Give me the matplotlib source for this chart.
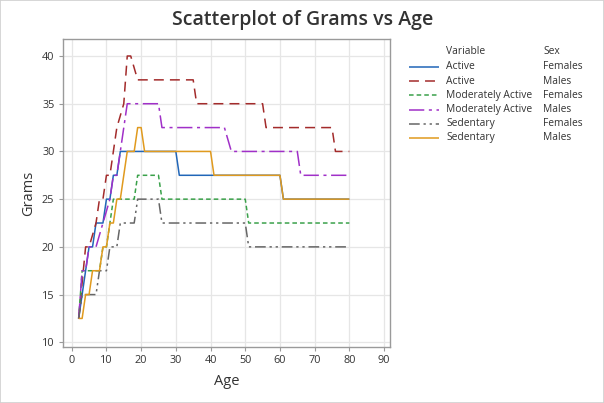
import matplotlib
matplotlib.use("Agg")
import matplotlib.pyplot as plt
from matplotlib.lines import Line2D
from matplotlib.patches import Rectangle

plt.rcParams['font.family'] = ['Open Sans', 'DejaVu Sans']

# ---- data ----
active_f_age = [2, 3, 4, 5, 6, 7, 9, 10, 11, 12, 13, 14, 30, 31, 60, 61, 80]
active_f_g = [12.5, 15, 17.5, 20, 20, 22.5, 22.5, 25, 25, 27.5, 27.5, 30, 30, 27.5, 27.5, 25, 25]

active_m_age = [2, 4, 5, 7, 8, 9, 10, 11, 12, 13, 14, 15, 16, 17, 19, 35, 36, 55, 56, 75, 76, 80]
active_m_g = [12.5, 20, 20, 22.5, 25, 25, 27.5, 27.5, 30, 32.5, 33.75, 35, 40, 40, 37.5, 37.5, 35, 35, 32.5, 32.5, 30, 30]

mod_f_age = [2, 3, 8, 9, 10, 11, 12, 18, 19, 25, 26, 50, 51, 80]
mod_f_g = [12.5, 17.5, 17.5, 20, 20, 22.5, 25, 25, 27.5, 27.5, 25, 25, 22.5, 22.5]

mod_m_age = [2, 3, 4, 5, 7, 9, 11, 12, 13, 14, 15, 16, 25, 26, 44, 46, 65, 66, 80]
mod_m_g = [12.5, 17.5, 17.5, 20, 20, 22.5, 25, 27.5, 27.5, 30, 32.5, 35, 35, 32.5, 32.5, 30, 30, 27.5, 27.5]

sed_f_age = [2, 3, 7, 8, 10, 11, 13, 14, 18, 19, 25, 26, 50, 51, 80]
sed_f_g = [12.5, 15, 15, 17.5, 17.5, 20, 20, 22.5, 22.5, 25, 25, 22.5, 22.5, 20, 20]

sed_m_age = [2, 3, 4, 5, 6, 8, 9, 10, 11, 12, 13, 14, 16, 18, 19, 20, 21, 40, 41, 60, 61, 80]
sed_m_g = [12.5, 12.5, 15, 15, 17.5, 17.5, 20, 20, 22.5, 22.5, 25, 25, 30, 30, 32.5, 32.5, 30, 30, 27.5, 27.5, 25, 25]

variables = ["Active", "Active", "Moderately Active", "Moderately Active", "Sedentary", "Sedentary"]
sexes = ["Females", "Males", "Females", "Males", "Females", "Males"]
x_ticks = [0, 10, 20, 30, 40, 50, 60, 70, 80, 90]
y_ticks = [10, 15, 20, 25, 30, 35, 40]

series = [
    (active_f_age, active_f_g, '#2166b8', (0, ())),
    (active_m_age, active_m_g, '#a32b2b', (0, (6.5, 4.0))),
    (mod_f_age, mod_f_g, '#3aa14a', (0, (3.0, 2.0))),
    (mod_m_age, mod_m_g, '#a030c8', (0, (10.0, 3.0, 2.0, 3.0))),
    (sed_f_age, sed_f_g, '#666666', (0, (7.0, 2.5, 1.5, 2.5, 1.5, 2.5))),
    (sed_m_age, sed_m_g, '#e09a1e', (0, ())),
]

W, H = 604, 403
fig = plt.figure(figsize=(W / 100, H / 100), dpi=100)


def fx(px):
    return px / W


def fy(py):
    return 1 - py / H


ax = fig.add_axes([fx(62.7), fy(346.7), fx(390.3) - fx(62.7), fy(39.3) - fy(346.7)])

for a, g, c, ls in series:
    ax.plot(a, g, color=c, linestyle=ls, linewidth=1.1)

ax.set_xlim(-2.6, 91.8)
ax.set_ylim(9.54, 41.75)
ax.set_xticks(x_ticks)
ax.set_yticks(y_ticks)
ax.grid(True, color='#e6e6e6', linewidth=0.9)
ax.set_axisbelow(True)
for s in ax.spines.values():
    s.set_color('#9a9a9a')
    s.set_linewidth(1.0)
ax.tick_params(direction='out', length=3, width=0.8, color='#9a9a9a',
               labelsize=7.8, labelcolor='#333333', pad=3)
ax.set_xlabel("Age", fontsize=10.5, color='#333333', labelpad=6)
ax.set_ylabel("Grams", fontsize=10.5, color='#333333', labelpad=4)

fig.text(fx(303), fy(20), "Scatterplot of Grams vs Age", fontsize=14,
         fontweight='semibold', color='#333333', ha='center', va='center')

# legend
FS = 7.4
fig.text(fx(446.5), fy(51.7), "Variable", fontsize=FS, color='#333333', va='center')
fig.text(fx(543), fy(51.7), "Sex", fontsize=FS, color='#333333', va='center')
row_y = [66.7, 81.0, 95.3, 109.5, 123.7, 137.8]
for (a, g, c, ls), v, s, ry in zip(series, variables, sexes, row_y):
    fig.add_artist(Line2D([fx(409), fx(438.5)], [fy(ry), fy(ry)], color=c,
                          linestyle=ls, linewidth=1.1, transform=fig.transFigure))
    fig.text(fx(446.5), fy(ry), v, fontsize=FS, color='#333333', va='center')
    fig.text(fx(543), fy(ry), s, fontsize=FS, color='#333333', va='center')

fig.add_artist(Rectangle((0, 0), 1, 1, transform=fig.transFigure, fill=False,
                         edgecolor='#d0d0d0', linewidth=1.2))

fig.savefig("out.png", dpi=100)
